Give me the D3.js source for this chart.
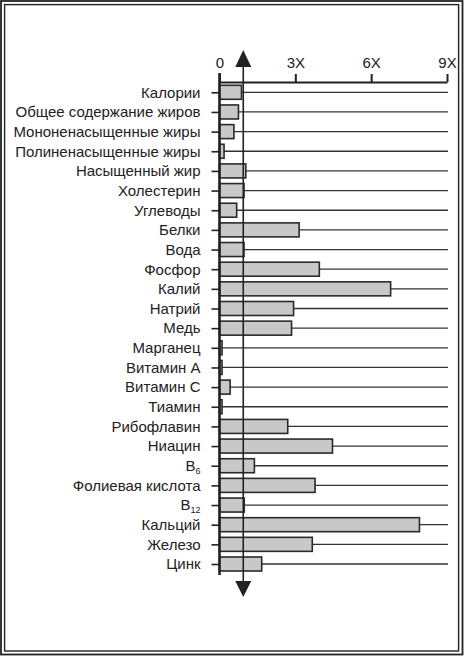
<!DOCTYPE html>
<html>
<head>
<meta charset="utf-8">
<script src="https://cdn.jsdelivr.net/npm/d3@7"></script>
<style>
  html, body { margin: 0; padding: 0; background: #fff; }
  svg { display: block; }
</style>
</head>
<body>
<svg id="chart" width="464" height="657"></svg>
<script>
// категории (подстрочный индекс после "_")
const categories = [
    "Калории", "Общее содержание жиров", "Мононенасыщенные жиры", "Полиненасыщенные жиры",
    "Насыщенный жир", "Холестерин", "Углеводы", "Белки", "Вода", "Фосфор", "Калий",
    "Натрий", "Медь", "Марганец", "Витамин А", "Витамин С", "Тиамин", "Рибофлавин",
    "Ниацин", "B_6", "Фолиевая кислота", "B_12", "Кальций", "Железо", "Цинк"
];

// во сколько раз (X)
const values = [
    0.87, 0.75, 0.57, 0.18, 1.04, 0.97, 0.68, 3.15, 0.97, 3.95, 6.77,
    2.93, 2.85, 0.1, 0.1, 0.42, 0.1, 2.7, 4.47, 1.38, 3.78, 0.98,
    7.91, 3.67, 1.67
];

const tickValues = [0, 3, 6, 9];
const tickLabels = ["0", "3X", "6X", "9X"];

// опорная линия со стрелками
const refValue = 0.94;

const svg = d3.select("#chart");
const ink = "#222";
const font = "'Liberation Sans', Arial, sans-serif";

// рамка в две линии
svg.append("rect")
    .attr("x", 1).attr("y", 1).attr("width", 461.5).attr("height", 653.5)
    .attr("fill", "none").attr("stroke", ink).attr("stroke-width", 1.8);
svg.append("rect")
    .attr("x", 4.6).attr("y", 4.6).attr("width", 454).attr("height", 646.4)
    .attr("fill", "none").attr("stroke", ink).attr("stroke-width", 1.4);

// шкалы
const scaleX = d3.scaleLinear().domain([0, 9]).range([219.5, 447]);
const scaleY = d3.scalePoint().domain(categories).range([92.3, 564]);
const barHeight = 14;

// горизонтальные линии рядов
svg.append("g")
    .selectAll("line")
    .data(categories)
    .enter()
    .append("line")
    .attr("x1", scaleX(0))
    .attr("x2", scaleX(9) + 1)
    .attr("y1", d => scaleY(d))
    .attr("y2", d => scaleY(d))
    .attr("stroke", "#333")
    .attr("stroke-width", 1.3);

// столбцы
svg.append("g")
    .selectAll("rect")
    .data(categories)
    .enter()
    .append("rect")
    .attr("x", scaleX(0))
    .attr("y", d => scaleY(d) - barHeight / 2)
    .attr("width", (d, i) => scaleX(values[i]) - scaleX(0))
    .attr("height", barHeight)
    .attr("fill", "#c8c8c8")
    .attr("stroke", "#2a2a2a")
    .attr("stroke-width", 1.6);

// верхняя ось
const xAxis = d3.axisTop(scaleX)
    .tickValues(tickValues)
    .tickFormat((d, i) => tickLabels[i])
    .tickSize(8)
    .tickSizeOuter(0)
    .tickPadding(6);

const gx = svg.append("g")
    .attr("transform", "translate(0, 82)")
    .call(xAxis);
gx.select(".domain").attr("stroke", ink).attr("stroke-width", 2.2);
gx.selectAll(".tick line").attr("stroke", ink).attr("stroke-width", 2);
gx.selectAll(".tick text")
    .attr("fill", ink)
    .style("font-family", font)
    .style("font-size", "15px");

// левая ось
const yAxis = d3.axisLeft(scaleY)
    .tickSize(8)
    .tickSizeOuter(0)
    .tickPadding(11)
    .tickFormat(() => "");

const gy = svg.append("g")
    .attr("transform", `translate(${scaleX(0)}, 0)`)
    .call(yAxis);
gy.select(".domain").remove();
gy.selectAll(".tick line").attr("stroke", ink).attr("stroke-width", 1.6);

// подписи категорий с подстрочными индексами
gy.selectAll(".tick text")
    .attr("fill", ink)
    .style("font-family", font)
    .style("font-size", "15px")
    .each(function(d) {
        const parts = d.split("_");
        const t = d3.select(this);
        t.text(null);
        t.append("tspan").text(parts[0]);
        if (parts[1]) {
            t.append("tspan")
                .attr("dy", "0.3em")
                .style("font-size", "9px")
                .text(parts[1]);
        }
    });

svg.append("line")
    .attr("x1", scaleX(0)).attr("x2", scaleX(0))
    .attr("y1", 73).attr("y2", 575)
    .attr("stroke", ink).attr("stroke-width", 2.6);

// опорная линия со стрелками
const refX = scaleX(refValue);
svg.append("line")
    .attr("x1", refX).attr("x2", refX)
    .attr("y1", 62).attr("y2", 585)
    .attr("stroke", ink).attr("stroke-width", 1.6);

svg.append("path")
    .attr("d", `M${refX},50 L${refX + 8},67 L${refX - 8},67 Z`)
    .attr("fill", ink);
svg.append("path")
    .attr("d", `M${refX},597 L${refX + 8},581 L${refX - 8},581 Z`)
    .attr("fill", ink);
</script>
</body>
</html>
